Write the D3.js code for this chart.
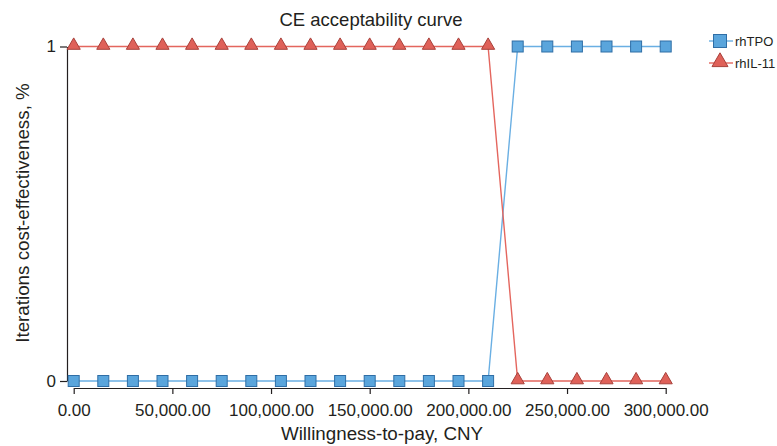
<!DOCTYPE html>
<html><head><meta charset="utf-8">
<script src="https://cdn.jsdelivr.net/npm/d3@7"></script>
<style>body{margin:0;background:#fff}svg{display:block}text{font-family:"Liberation Sans",Arial,sans-serif;fill:#231f20}</style>
</head><body>
<script>
const wtp = [0,15000,30000,45000,60000,75000,90000,105000,120000,135000,150000,165000,180000,195000,210000,225000,240000,255000,270000,285000,300000];
const rhTPO = [0,0,0,0,0,0,0,0,0,0,0,0,0,0,0,1,1,1,1,1,1];
const rhIL11 = [1,1,1,1,1,1,1,1,1,1,1,1,1,1,1,0,0,0,0,0,0];
const xTicks = [0,50000,100000,150000,200000,250000,300000];
const yTicks = [0,1];
const seriesNames = ["rhTPO","rhIL-11"];

const W=777,H=446;
const svg=d3.select("body").append("svg").attr("width",W).attr("height",H);
const x=d3.scaleLinear().domain([0,300000]).range([73.7,665.7]);
const y=d3.scaleLinear().domain([0,1]).range([381,46.5]);

// axes
const xAxis=svg.append("g").attr("transform","translate(0,388)")
  .call(d3.axisBottom(x).tickValues(xTicks).tickSize(6).tickSizeOuter(0).tickFormat(d=>d3.format(",.2f")(d)));
xAxis.select(".domain").attr("stroke","#231f20").attr("stroke-width",1.2);
xAxis.selectAll(".tick line").attr("stroke","#231f20").attr("stroke-width",1.2);
xAxis.selectAll("text").attr("font-size",17).attr("dy","1.1em").style("fill","#231f20");

const yAxis=svg.append("g").attr("transform","translate(67,0)")
  .call(d3.axisLeft(y).tickValues(yTicks).tickSize(7).tickSizeOuter(0).tickFormat(d3.format("d")));
yAxis.select(".domain").attr("stroke","#231f20").attr("stroke-width",1.2);
yAxis.selectAll(".tick line").attr("stroke","#231f20").attr("stroke-width",1.2);
yAxis.selectAll("text").attr("font-size",17).attr("x",-11).style("fill","#231f20");

// titles
svg.append("text").attr("x",371).attr("y",26).attr("text-anchor","middle").attr("font-size",18.5).text("CE acceptability curve");
svg.append("text").attr("x",382).attr("y",440).attr("text-anchor","middle").attr("font-size",18.8).text("Willingness-to-pay, CNY");
svg.append("text").attr("transform","translate(29,213) rotate(-90)").attr("text-anchor","middle").attr("font-size",18.8).text("Iterations cost-effectiveness, %");

const blue={line:"#6aafe3",fill:"#5aa5dc",stroke:"#2f6ea6"};
const red={line:"#e4665e",fill:"#df6159",stroke:"#a8403a"};
const line=d3.line().x((d,i)=>x(wtp[i])).y(d=>y(d));
const tri=d3.symbol().type(d3.symbolTriangle).size(75);

function drawSeries(vals,c,shape){
  svg.append("path").datum(vals).attr("d",line).attr("fill","none").attr("stroke",c.line).attr("stroke-width",1.4);
  const g=svg.append("g");
  vals.forEach((v,i)=>{
    if(shape==="sq"){
      g.append("rect").attr("x",x(wtp[i])-5.5).attr("y",y(v)-5.5).attr("width",11).attr("height",11)
        .attr("fill",c.fill).attr("stroke",c.stroke).attr("stroke-width",1);
    } else {
      g.append("path").attr("d",tri).attr("transform",`translate(${x(wtp[i])},${y(v)-1})`)
        .attr("fill",c.fill).attr("stroke",c.stroke).attr("stroke-width",1);
    }
  });
}
drawSeries(rhTPO,blue,"sq");
drawSeries(rhIL11,red,"tri");

// legend
const lg=svg.append("g");
[[blue,"sq",41],[red,"tri",63]].forEach(([c,s,ly],i)=>{
  lg.append("line").attr("x1",709).attr("x2",733).attr("y1",ly).attr("y2",ly).attr("stroke",c.line).attr("stroke-width",1.4);
  if(s==="sq") lg.append("rect").attr("x",713.5).attr("y",ly-6.5).attr("width",13).attr("height",13).attr("fill",c.fill).attr("stroke",c.stroke);
  else lg.append("path").attr("d",d3.symbol().type(d3.symbolTriangle).size(110)).attr("transform",`translate(720,${ly-1})`).attr("fill",c.fill).attr("stroke",c.stroke);
  lg.append("text").attr("x",735).attr("y",ly+4.5).attr("font-size",13).text(seriesNames[i]);
});
</script>
</body></html>
